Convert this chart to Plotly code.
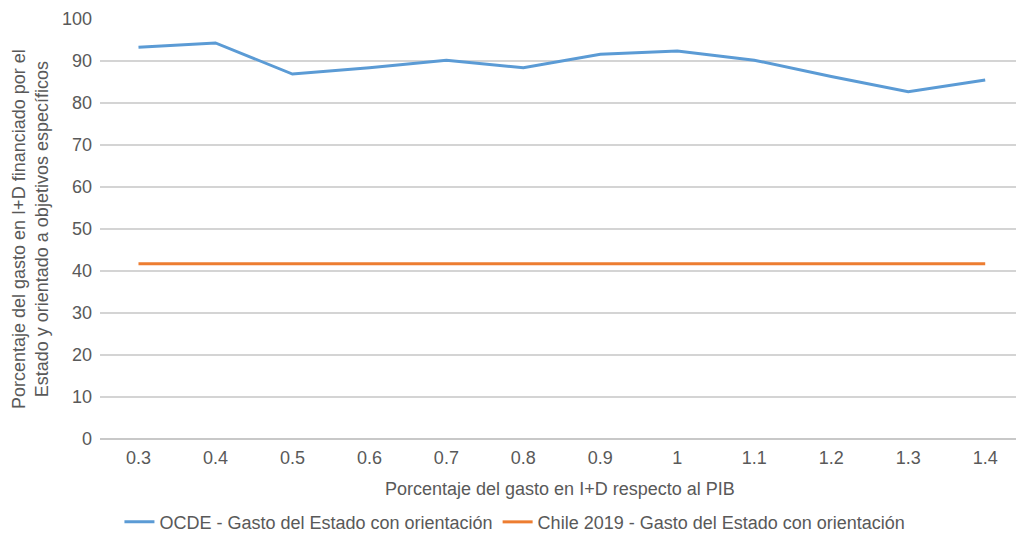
import plotly.graph_objects as go

# Gasto en I+D respecto al PIB (%)
categorias = ["0.3", "0.4", "0.5", "0.6", "0.7", "0.8", "0.9", "1", "1.1", "1.2", "1.3", "1.4"]
ocde = [93.3, 94.3, 86.9, 88.4, 90.2, 88.4, 91.6, 92.4, 90.2, 86.3, 82.7, 85.5]
chile_2019 = [41.7] * len(categorias)

FONT = "Liberation Sans, Arial, sans-serif"
GRIS = "#595959"

fig = go.Figure()
fig.add_trace(go.Scatter(
    x=categorias, y=ocde, mode="lines",
    name="OCDE - Gasto del Estado con orientación",
    line=dict(color="#5b9bd5", width=3),
))
fig.add_trace(go.Scatter(
    x=categorias, y=chile_2019, mode="lines",
    name="Chile 2019 - Gasto del Estado con orientación",
    line=dict(color="#ed7d31", width=3),
))

fig.update_layout(
    width=1016, height=536,
    margin=dict(l=100, r=0, t=19, b=97, autoexpand=False),
    paper_bgcolor="white", plot_bgcolor="white",
    font=dict(family=FONT, size=18, color=GRIS),
    showlegend=True,
    legend=dict(orientation="h", x=0.453, xanchor="center", y=-0.198, yanchor="middle",
                font=dict(size=18, color=GRIS), itemwidth=30, tracegroupgap=0),
    xaxis=dict(type="category", range=[-0.5, 11.4], showgrid=False, zeroline=False,
               showline=False, ticks="", ticklabelstandoff=6,
               tickfont=dict(size=18, color=GRIS)),
    yaxis=dict(range=[0, 100], dtick=10, showgrid=True, gridcolor="#d4d4d4", gridwidth=1.5,
               zeroline=True, zerolinecolor="#c8c8c8", zerolinewidth=2,
               showline=False, ticks="", ticklabelstandoff=7,
               tickfont=dict(size=18, color=GRIS)),
    annotations=[
        dict(text="Porcentaje del gasto en I+D respecto al PIB", xref="paper", yref="paper",
             x=0.502, y=-0.119, xanchor="center", yanchor="middle", showarrow=False,
             font=dict(size=18, color=GRIS)),
        dict(text="Porcentaje del gasto en I+D financiado por el<br>Estado y orientado a objetivos específicos",
             xref="paper", yref="paper", x=-0.0764, y=0.5, xanchor="center", yanchor="middle",
             textangle=-90, showarrow=False, font=dict(size=18, color=GRIS)),
    ],
)

fig.write_html("out.html")
